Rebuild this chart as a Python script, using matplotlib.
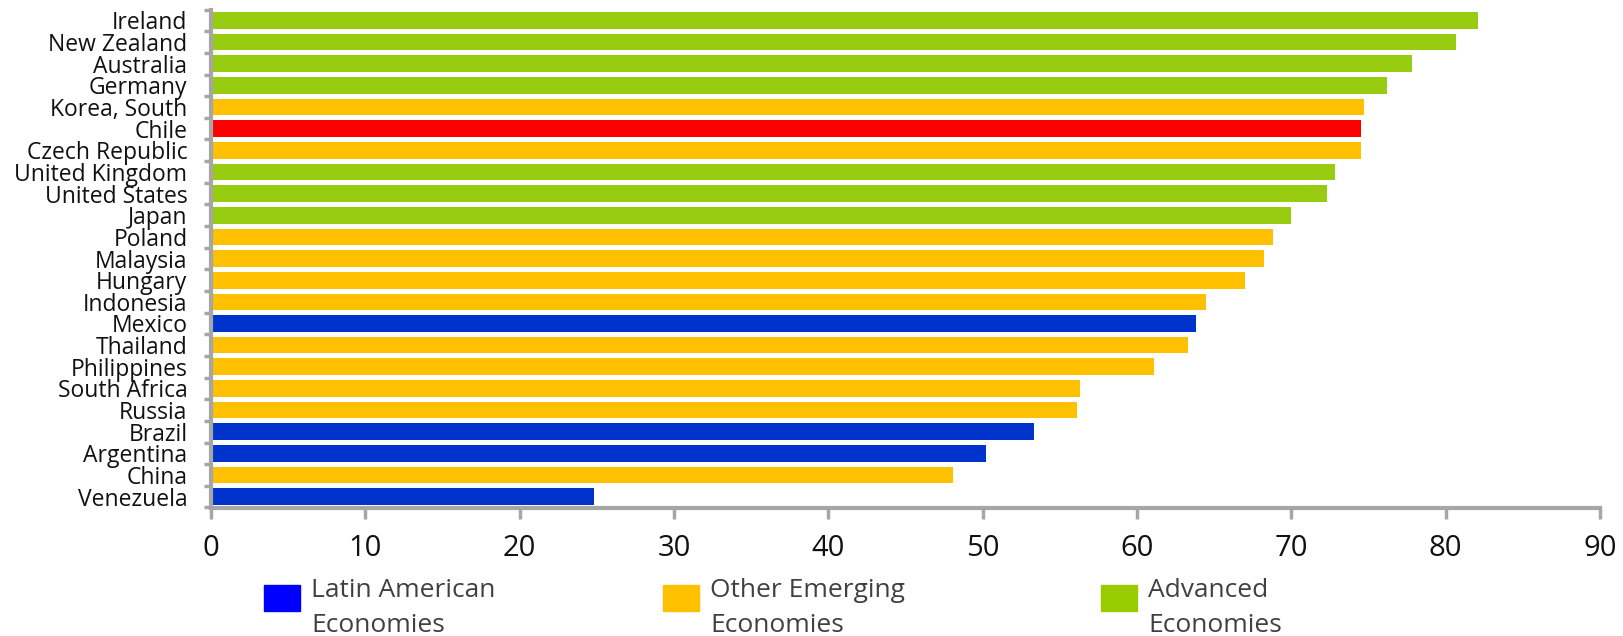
import matplotlib
matplotlib.use("Agg")
import matplotlib.pyplot as plt
from matplotlib.patches import Rectangle

plt.rcParams['font.family'] = ['Open Sans', 'DejaVu Sans']

countries = ["Ireland", "New Zealand", "Australia", "Germany", "Korea, South", "Chile",
             "Czech Republic", "United Kingdom", "United States", "Japan", "Poland",
             "Malaysia", "Hungary", "Indonesia", "Mexico", "Thailand", "Philippines",
             "South Africa", "Russia", "Brazil", "Argentina", "China", "Venezuela"]
values = [82.1, 80.7, 77.8, 76.2, 74.7, 74.5, 74.5, 72.8, 72.3, 70.0, 68.8,
          68.2, 67.0, 64.5, 63.8, 63.3, 61.1, 56.3, 56.1, 53.3, 50.2, 48.1, 24.8]
groups = ["adv", "adv", "adv", "adv", "emg", "chile", "emg", "adv", "adv", "adv", "emg",
          "emg", "emg", "emg", "lat", "emg", "emg", "emg", "emg", "lat", "lat", "emg", "lat"]
bar_colors = {"adv": "#97CC10", "emg": "#FFC000", "lat": "#0033CC", "chile": "#FF0000"}
legend_labels = ["Latin American\nEconomies", "Other Emerging\nEconomies", "Advanced\nEconomies"]
legend_colors = ["#0000FF", "#FFC000", "#99CC00"]
xticks = [0, 10, 20, 30, 40, 50, 60, 70, 80, 90]

W, H = 1624, 636
fig = plt.figure(figsize=(W / 100, H / 100), dpi=100)
ax = fig.add_axes([211 / W, 1 - 507.5 / H, (1600 - 211) / W, (507.5 - 9.6) / H])

ypos = list(range(len(countries)))
ax.barh(ypos, values, height=0.77, color=[bar_colors[g] for g in groups],
        edgecolor='none', zorder=2)
ax.set_ylim(len(countries) - 0.5, -0.5)
ax.set_xlim(0, 90)

ax.set_yticks(ypos)
ax.set_yticklabels(countries, fontsize=16.5, color='#111111')
ax.set_yticks([i - 0.5 for i in range(len(countries) + 1)], minor=True)
ax.tick_params(axis='y', which='major', length=0, pad=17)
ax.tick_params(axis='y', which='minor', length=5, width=2.5, color='#A6A6A6')

ax.set_xticks(xticks)
ax.set_xticklabels([str(t) for t in xticks], fontsize=21, color='#111111')
ax.tick_params(axis='x', length=8, width=2.5, color='#A6A6A6', pad=11)

for s in ['top', 'right']:
    ax.spines[s].set_visible(False)
for s in ['left', 'bottom']:
    ax.spines[s].set_color('#A6A6A6')
    ax.spines[s].set_linewidth(3)

# legend
sq_x = [264, 663, 1101]
txt_x = [311, 710, 1148]
for lab, col, sx, tx in zip(legend_labels, legend_colors, sq_x, txt_x):
    fig.patches.append(Rectangle((sx / W, 1 - 611 / H), 36 / W, 26 / H,
                                 transform=fig.transFigure, color=col))
    fig.text(tx / W, 1 - 578 / H, lab, fontsize=19, color='#404040', va='top',
             ha='left', linespacing=1.5)

fig.savefig("out.png", dpi=100)
